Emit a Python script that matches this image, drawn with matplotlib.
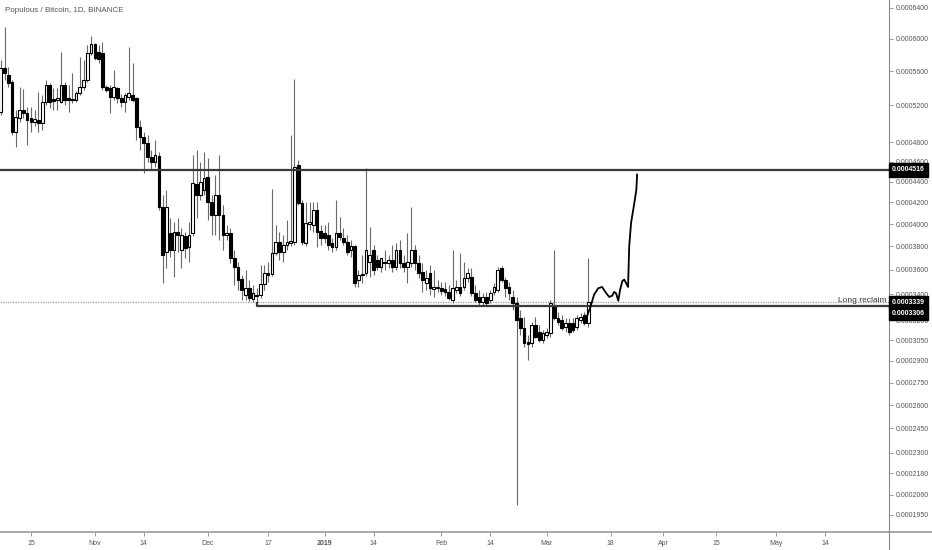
import numpy as np
import pandas as pd
import matplotlib
matplotlib.use("Agg")
import matplotlib.pyplot as plt
import matplotlib.dates as mdates
from matplotlib.lines import Line2D
from matplotlib.ticker import FixedLocator, FixedFormatter, FormatStrFormatter, NullLocator

plt.rcParams['font.family'] = ['Liberation Sans', 'DejaVu Sans']

# daily candles, prices in 1e-7 BTC
first_day = '2018-10-07'
opens = [5128, 5636, 5553, 5471, 4909, 5061, 5150, 5117, 5061, 5017, 5039, 5006, 5240, 5436, 5274, 5262,
         5240, 5436, 5285, 5274, 5262, 5343, 5412, 5494, 5820, 5933, 5832, 5820, 5412, 5400, 5297, 5400,
         5285, 5240, 5297, 5320, 5285, 4963, 4856, 4793, 4647, 4596, 4657, 4157, 3753, 3919, 3770, 3928,
         3770, 3893, 3796, 3919, 4377, 4270, 4318, 4446, 4204, 4082, 4270, 4082, 3902, 3919, 3701, 3625,
         3525, 3396, 3452, 3364, 3388, 3396, 3484, 3575, 3567, 3744, 3840, 3753, 3814, 3831, 3840, 4566,
         4195, 3831, 4000, 3991, 4129, 3937, 3919, 3902, 3831, 3796, 3919, 3875, 3840, 3770, 3805, 3517,
         3559, 3575, 3667, 3770, 3684, 3625, 3667, 3659, 3684, 3625, 3770, 3659, 3625, 3659, 3770, 3659,
         3583, 3492, 3575, 3443, 3452, 3452, 3443, 3419, 3356, 3435, 3460, 3460, 3534, 3542, 3411, 3380,
         3340, 3380, 3356, 3419, 3435, 3617, 3517, 3460, 3380, 3332, 3215, 3140, 3036, 3029, 3163, 3110,
         3051, 3088, 3103, 3317, 3215, 3200, 3148, 3178, 3178, 3148, 3200, 3239, 3178]
highs = [5734, 6149, 5649, 5494, 5150, 5412, 5389, 5184, 5184, 5150, 5354, 5320, 5494, 5459, 5400, 5400,
         5832, 5471, 5436, 5577, 5366, 5771, 5734, 5920, 6034, 5945, 5920, 5958, 5436, 5436, 5612, 5412,
         5331, 5343, 5895, 5697, 5297, 5039, 4909, 4877, 4719, 4824, 4698, 4270, 4318, 4055, 4018, 4055,
         3964, 3928, 4018, 4668, 4719, 4596, 4698, 4637, 4270, 4466, 4668, 4176, 3991, 3964, 3770, 3667,
         3559, 3600, 3517, 3476, 3452, 3642, 3642, 3667, 4328, 3991, 3928, 3902, 4036, 4877, 5506, 4616,
         4223, 4204, 4204, 4204, 4204, 3991, 3991, 4018, 3875, 4223, 4064, 3964, 3902, 3857, 3814, 3600,
         3727, 4535, 3973, 3814, 3727, 3701, 3770, 3727, 3814, 3831, 3857, 3727, 3919, 4157, 3814, 3727,
         3659, 3600, 3642, 3600, 3517, 3501, 3501, 3476, 3770, 3517, 3744, 3667, 3617, 3617, 3476, 3435,
         3411, 3419, 3435, 3492, 3625, 3634, 3542, 3501, 3435, 3380, 3277, 3223, 3088, 3185, 3223, 3163,
         3125, 3140, 3356, 3770, 3262, 3239, 3215, 3215, 3215, 3239, 3254, 3262, 3701]
lows = [5095, 5494, 5412, 4877, 4751, 5017, 5061, 4772, 4909, 4974, 4909, 4930, 5206, 5172, 5150, 5150,
        5228, 5206, 5128, 5228, 5240, 5320, 5377, 5471, 5795, 5734, 5697, 5377, 5354, 5117, 5262, 5228,
        5184, 5128, 5262, 5240, 4824, 4719, 4485, 4596, 4515, 4545, 4129, 3492, 3617, 3710, 3542, 3753,
        3617, 3701, 3667, 3893, 4055, 4223, 4270, 4036, 3902, 3902, 3857, 3770, 3857, 3659, 3476, 3435,
        3356, 3356, 3348, 3340, 3339, 3372, 3435, 3501, 3550, 3727, 3684, 3667, 3770, 3805, 3814, 4176,
        3814, 3805, 3946, 3928, 3796, 3814, 3831, 3770, 3753, 3770, 3857, 3814, 3727, 3710, 3460, 3460,
        3492, 3550, 3542, 3559, 3600, 3583, 3600, 3617, 3583, 3600, 3617, 3583, 3492, 3625, 3600, 3534,
        3419, 3435, 3396, 3380, 3419, 3396, 3388, 3356, 3332, 3411, 3388, 3435, 3501, 3388, 3340, 3317,
        3317, 3317, 3332, 3396, 3419, 3501, 3380, 3356, 3277, 2005, 3088, 3000, 2906, 3000, 3066, 3036,
        3029, 3066, 3073, 3200, 3163, 3125, 3110, 3088, 3110, 3125, 3178, 3163, 3148]
closes = [5636, 5577, 5459, 4909, 5072, 5150, 5117, 5039, 5017, 5050, 5006, 5240, 5436, 5240, 5251, 5285,
          5436, 5262, 5262, 5262, 5343, 5412, 5494, 5820, 5933, 5759, 5746, 5412, 5377, 5297, 5412, 5285,
          5240, 5320, 5343, 5262, 4963, 4856, 4793, 4647, 4596, 4668, 4157, 3727, 4157, 3770, 3928, 3902,
          3902, 3787, 3902, 4387, 4270, 4396, 4436, 4204, 4082, 4270, 4082, 3902, 3919, 3701, 3625, 3517,
          3435, 3452, 3372, 3411, 3396, 3484, 3575, 3559, 3744, 3840, 3753, 3814, 3840, 3848, 4545, 4195,
          3840, 4009, 4018, 4129, 3928, 3875, 3875, 3814, 3796, 3919, 3884, 3840, 3753, 3805, 3492, 3559,
          3567, 3770, 3727, 3600, 3625, 3701, 3659, 3684, 3625, 3770, 3659, 3625, 3667, 3770, 3659, 3575,
          3517, 3534, 3452, 3460, 3460, 3427, 3419, 3372, 3452, 3460, 3411, 3534, 3575, 3411, 3356, 3340,
          3380, 3332, 3411, 3460, 3600, 3517, 3452, 3411, 3332, 3200, 3140, 3029, 3022, 3163, 3073, 3051,
          3103, 3110, 3332, 3215, 3185, 3140, 3178, 3110, 3125, 3215, 3223, 3178, 3340]

# hand drawn projection (days after first candle, price 1e-7)
curve_days = [155.5, 156.6, 157.6, 158.7, 159.7, 160.8, 161.6, 162.4, 162.9, 163.4, 164.0, 164.5,
              165.1, 165.6, 166.1, 166.6, 166.9, 167.4, 168.2, 168.8, 169.0]
curve_prices = [3215, 3300, 3400, 3450, 3460, 3410, 3380, 3390, 3420, 3410, 3350, 3440,
                3510, 3520, 3490, 3460, 3800, 4010, 4180, 4320, 4470]

resistance = 0.0004516
reclaim_dotted = 0.0003339
reclaim_line = 0.0003306
reclaim_start = 68  # candle index where the reclaim line begins

price_ticks = [0.00064, 0.0006, 0.00056, 0.00052, 0.00048, 0.00046, 0.00044, 0.00042, 0.0004,
               0.00038, 0.00036, 0.00034, 0.00032, 0.000305, 0.00029, 0.000275, 0.00026,
               0.000245, 0.00023, 0.000218, 0.000206, 0.000195]
date_ticks = ['2018-10-15', '2018-11-01', '2018-11-14', '2018-12-01', '2018-12-17', '2019-01-01',
              '2019-01-14', '2019-02-01', '2019-02-14', '2019-03-01', '2019-03-18', '2019-04-01',
              '2019-04-15', '2019-05-01', '2019-05-14']
date_labels = ['15', 'Nov', '14', 'Dec', '17', '2019', '14', 'Feb', '14', 'Mar', '18', 'Apr',
               '15', 'May', '14']

o = np.array(opens) * 1e-7
h = np.array(highs) * 1e-7
l = np.array(lows) * 1e-7
c = np.array(closes) * 1e-7
t0 = mdates.date2num(pd.Timestamp(first_day))
x = t0 + np.arange(len(o))

W, H = 932, 550
fig = plt.figure(figsize=(W / 100, H / 100), dpi=100)
ax = fig.add_axes([0, 18 / H, 889 / W, 532 / H])

off = 1e-4
ax.set_yscale('function', functions=(lambda v: np.log(np.clip(v + off, 1e-9, None)),
                                      lambda v: np.exp(v) - off))
ax.set_ylim(0.0001859, 0.0006508)
ax.set_xlim(mdates.date2num(pd.Timestamp('2018-10-15')) - 8.2,
            mdates.date2num(pd.Timestamp('2018-11-01')) + 210.9)

# candles
up = c >= o
ax.vlines(x, l, h, color='#6a6a6a', lw=0.8, zorder=2)
bot = np.minimum(o, c)
hgt = np.maximum(np.abs(c - o), 2e-7)
ax.bar(x[up], hgt[up], bottom=bot[up], width=0.72, color='white', edgecolor='black', lw=0.8, zorder=3)
ax.bar(x[~up], hgt[~up], bottom=bot[~up], width=0.72, color='black', edgecolor='black', lw=0.8, zorder=3)

# levels
ax.axhline(resistance, color='#3a3a3a', lw=1.6, zorder=4)
ax.axhline(reclaim_dotted, color='#9a9a9a', lw=0.9, ls=(0, (1, 1)), zorder=1)
xs = x[reclaim_start]
ax.plot([xs, xs, ax.get_xlim()[1]], [reclaim_dotted, reclaim_line, reclaim_line],
        color='#3a3a3a', lw=1.6, zorder=4, solid_capstyle='butt')
ax.text(886 / 889, 0.0003348, 'Long reclaim', transform=ax.get_yaxis_transform(),
        ha='right', va='center', fontsize=6, color='#3a3a3a', zorder=5)

# projection
ax.plot(t0 + np.array(curve_days), np.array(curve_prices) * 1e-7, color='black', lw=1.3, zorder=6)

# axes styling
for s in ['left', 'top']:
    ax.spines[s].set_visible(False)
ax.spines['right'].set_color('#8a8a8a')
ax.spines['bottom'].set_color('#9a9a9a')
ax.spines['bottom'].set_linewidth(1.2)
ax.yaxis.tick_right()
ax.yaxis.set_major_locator(FixedLocator(price_ticks))
ax.yaxis.set_major_formatter(FormatStrFormatter('%.7f'))
ax.yaxis.set_minor_locator(NullLocator())
ax.xaxis.set_major_locator(FixedLocator([mdates.date2num(pd.Timestamp(d)) for d in date_ticks]))
ax.xaxis.set_major_formatter(FixedFormatter(date_labels))
ax.tick_params(axis='y', length=3, width=0.6, color='#8a8a8a', labelsize=5, labelcolor='#555555', pad=2)
ax.tick_params(axis='x', length=3, width=0.6, color='#8a8a8a', labelsize=5, labelcolor='#555555', pad=3)
for lab in ax.get_xticklabels():
    if lab.get_text() == '2019':
        lab.set_fontweight('bold')

# price labels on the scale
for price, dy in [(resistance, 0), (reclaim_dotted, 0), (reclaim_line, -5)]:
    ax.annotate('%.7f' % price, xy=(1, price), xycoords=ax.get_yaxis_transform(),
                xytext=(2.2, dy), textcoords='offset points', ha='left', va='center',
                fontsize=5, color='white', fontweight='bold', zorder=10, annotation_clip=False,
                bbox=dict(boxstyle='square,pad=0.45', fc='black', ec='black'))

# axis lines beyond the plot area
fig.add_artist(Line2D([889 / W, 1], [18 / H, 18 / H], color='#9a9a9a', lw=1.2))
fig.add_artist(Line2D([889 / W, 889 / W], [0, 18 / H], color='#8a8a8a', lw=0.8))

fig.text(5 / W, 1 - 11 / H, 'Populous / Bitcoin, 1D, BINANCE', fontsize=5.8, color='#555555',
         va='center', ha='left')

fig.savefig('out.png', dpi=100)
